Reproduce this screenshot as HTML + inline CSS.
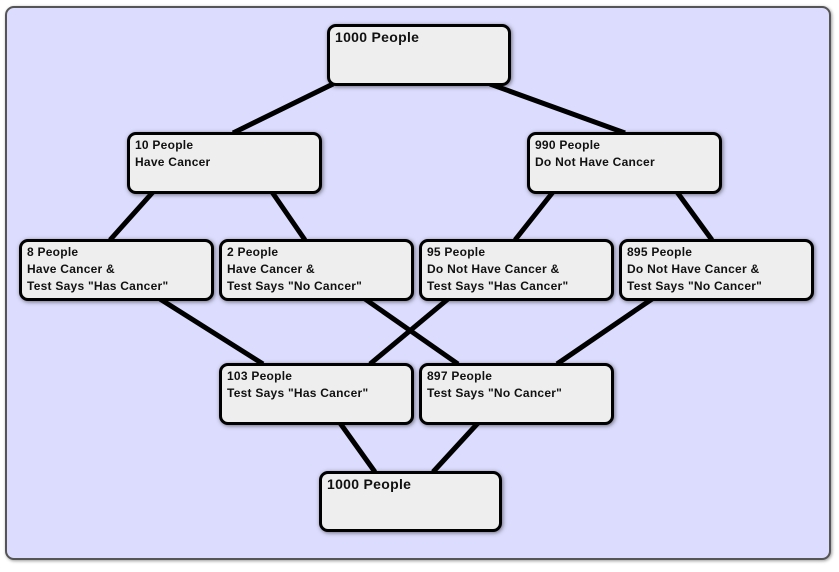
<!DOCTYPE html>
<html><head><style>
body{margin:0;width:839px;height:572px;background:#fff;position:relative;overflow:hidden;font-family:"Liberation Sans",Arial,sans-serif}
.panel{position:absolute;left:5px;top:6px;width:822px;height:550px;border:2px solid #555;border-radius:9px;background:#dcdcfe;box-shadow:1px 1px 3px rgba(0,0,0,.4)}
.b{position:absolute;box-sizing:border-box;border:3px solid #000;border-radius:9px;background:#eeeeee;font-weight:bold;font-size:12px;line-height:17px;color:#111;padding:2px 0 0 5px;letter-spacing:0.25px;box-shadow:1px 1px 4px rgba(0,0,0,.5);white-space:nowrap}
.big{font-size:14px;padding-top:2px;padding-left:5px;letter-spacing:0.3px}
svg{position:absolute;left:0;top:0}
</style></head><body>
<div class="panel"></div>
<svg width="839" height="572"><g stroke="#000" stroke-width="5" stroke-linecap="butt">
<line x1="333" y1="84" x2="233" y2="133"/><line x1="490" y1="84" x2="625" y2="133"/>
<line x1="153" y1="192" x2="110" y2="240"/><line x1="272" y1="192" x2="305" y2="240"/>
<line x1="553" y1="192" x2="515" y2="240"/><line x1="677" y1="192" x2="712" y2="240"/>
<line x1="160" y1="299" x2="263" y2="364"/><line x1="365" y1="299" x2="458" y2="364"/>
<line x1="448" y1="299" x2="370" y2="364"/><line x1="652" y1="299" x2="557" y2="364"/>
<line x1="340" y1="423" x2="375" y2="472"/><line x1="478" y1="423" x2="433" y2="472"/>
</g></svg>
<div class="b big" style="left:327px;top:24px;width:184px;height:62px">1000 People</div>
<div class="b" style="left:127px;top:132px;width:195px;height:62px">10 People<br>Have Cancer</div>
<div class="b" style="left:527px;top:132px;width:195px;height:62px">990 People<br>Do Not Have Cancer</div>
<div class="b" style="left:19px;top:239px;width:195px;height:62px">8 People<br>Have Cancer &amp;<br>Test Says "Has Cancer"</div>
<div class="b" style="left:219px;top:239px;width:195px;height:62px">2 People<br>Have Cancer &amp;<br>Test Says "No Cancer"</div>
<div class="b" style="left:419px;top:239px;width:195px;height:62px">95 People<br>Do Not Have Cancer &amp;<br>Test Says "Has Cancer"</div>
<div class="b" style="left:619px;top:239px;width:195px;height:62px">895 People<br>Do Not Have Cancer &amp;<br>Test Says "No Cancer"</div>
<div class="b" style="left:219px;top:363px;width:195px;height:62px">103 People<br>Test Says "Has Cancer"</div>
<div class="b" style="left:419px;top:363px;width:195px;height:62px">897 People<br>Test Says "No Cancer"</div>
<div class="b big" style="left:319px;top:471px;width:183px;height:61px">1000 People</div>
</body></html>
